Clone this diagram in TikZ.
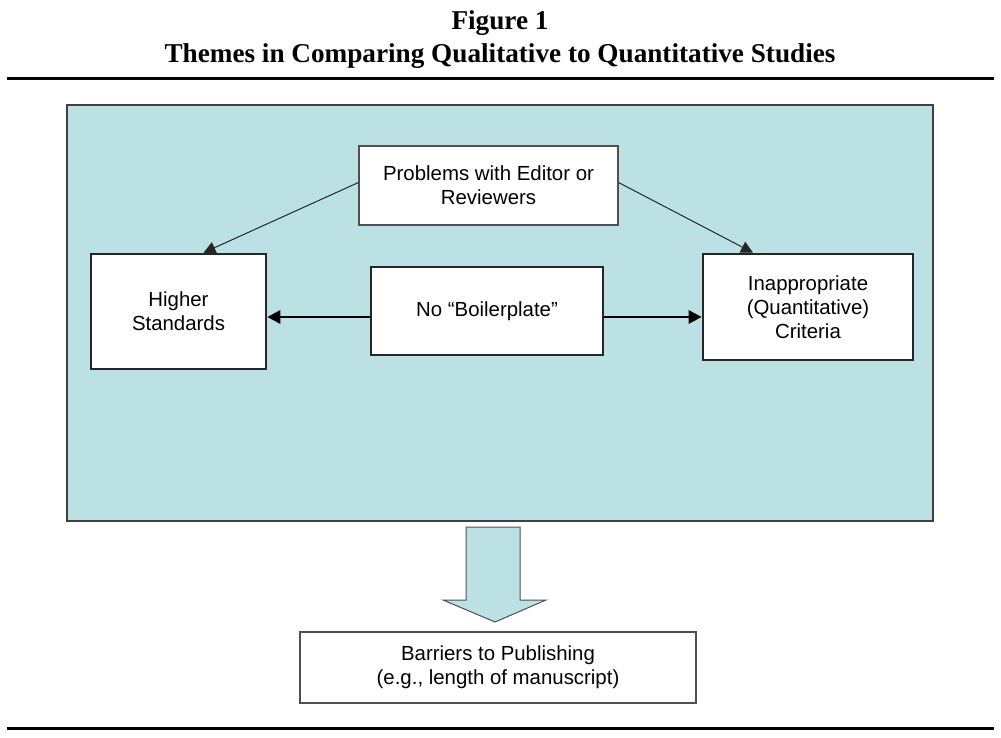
\documentclass[tikz,border=0pt]{standalone}
\usepackage{fontspec}
\setmainfont{Liberation Serif}
\setsansfont{Liberation Sans}
\usetikzlibrary{arrows.meta}
\definecolor{panelblue}{RGB}{188,225,228}
\definecolor{edgegray}{RGB}{80,80,80}
\begin{document}
\begin{tikzpicture}[x=1pt, y=-1pt,
    every node/.style={font=\sffamily\fontsize{20.4}{24}\selectfont, align=center, inner sep=0pt},
    thinbox/.style={draw=edgegray, line width=1.1pt, fill=white},
    thickbox/.style={draw=black!85, line width=2.6pt, fill=white},
    thinarrow/.style={draw=black!85, line width=1pt, -{Triangle[width=12pt,length=12pt]}},
    thickarrow/.style={draw=black, line width=2.8pt, -{Triangle[width=13pt,length=13pt]}}]
    \useasboundingbox (0,0) rectangle (1001,738);
    \fill[white] (0,0) rectangle (1001,738);
    \node[font=\bfseries\fontsize{27.2}{33}\selectfont] (title) at (500,39.5) {Figure 1\\Themes in Comparing Qualitative to Quantitative Studies};
    \draw[line width=3pt] (7,79) -- (994,79);
    \draw[line width=3pt] (7,728) -- (994,728);
    \draw[draw=black!75, line width=1.1pt, fill=panelblue] (67,105) rectangle (933,521);
    \node[thinbox, minimum width=259pt, minimum height=79pt] (problems) at (488.5,185.5) {Problems with Editor or\\Reviewers};
    \node[thickbox, minimum width=175pt, minimum height=115pt] (higher) at (178.5,311.5) {Higher\\Standards};
    \node[thickbox, minimum width=232pt, minimum height=88pt] (noboiler) at (487,311) {No “Boilerplate”};
    \node[thickbox, minimum width=210pt, minimum height=106pt] (inapprop) at (808,307) {Inappropriate\\(Quantitative)\\Criteria};
    \node[thinbox, minimum width=396pt, minimum height=71pt] (barriers) at (498,667.5) {Barriers to Publishing\\(e.g., length of manuscript)};
    \draw[thinarrow] ([yshift=3pt]problems.west) -- ([xshift=25pt]higher.north);
    \draw[thinarrow] ([yshift=3pt]problems.east) -- ([xshift=-55pt]inapprop.north);
    \draw[thickarrow] ([yshift=-6pt]noboiler.west) -- ([yshift=-6pt]noboiler.west -| higher.east);
    \draw[thickarrow] ([yshift=-6pt]noboiler.east) -- ([yshift=-6pt]noboiler.east -| inapprop.west);
    \draw[draw=edgegray, line width=1pt, fill=panelblue] (466,527) -- (520,527) -- (520,600) -- (546,600)
        -- (495,622) -- (443,600) -- (466,600) -- cycle;
\end{tikzpicture}
\end{document}
